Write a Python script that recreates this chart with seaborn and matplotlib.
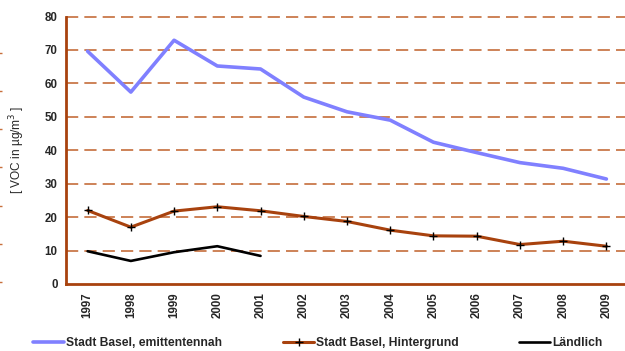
import matplotlib
matplotlib.use("Agg")
import matplotlib.pyplot as plt
import seaborn as sns
import pandas as pd

years = ["1997", "1998", "1999", "2000", "2001", "2002", "2003",
         "2004", "2005", "2006", "2007", "2008", "2009"]
emittentennah = [69.6, 57.4, 72.9, 65.2, 64.3, 55.9, 51.5, 49.0, 42.4, 39.3, 36.3, 34.6, 31.4]
hintergrund = [22.0, 17.0, 21.8, 23.1, 21.9, 20.2, 18.7, 16.1, 14.4, 14.3, 11.8, 12.8, 11.3]
laendlich = [9.8, 6.9, 9.5, 11.3, 8.4]
series_names = ["Stadt Basel, emittentennah", "Stadt Basel, Hintergrund", "Ländlich"]
y_ticks = [0, 10, 20, 30, 40, 50, 60, 70, 80]

sns.set_theme(style="white")
plt.rcParams["font.family"] = ["Liberation Sans", "DejaVu Sans"]

rows = []
for y, v in zip(years, emittentennah):
    rows.append((y, v, series_names[0]))
for y, v in zip(years, hintergrund):
    rows.append((y, v, series_names[1]))
for y, v in zip(years[:len(laendlich)], laendlich):
    rows.append((y, v, series_names[2]))
df = pd.DataFrame(rows, columns=["Jahr", "VOC", "Messort"])
df["pos"] = df["Jahr"].map({y: i for i, y in enumerate(years)})

brown = "#A8420E"
grid_col = "#C0602A"

fig = plt.figure(figsize=(6.25, 3.51), dpi=100)
ax = fig.add_axes([66 / 625, 67 / 351, 562 / 625, 267.5 / 351])

palette = {series_names[0]: "#8080FF", series_names[1]: brown, series_names[2]: "#000000"}
widths = {series_names[0]: 2.6, series_names[1]: 2.2, series_names[2]: 1.9}
for name in series_names:
    sub = df[df["Messort"] == name]
    sns.lineplot(data=sub, x="pos", y="VOC", ax=ax, color=palette[name],
                 lw=widths[name], label=name, sort=False,
                 marker="+" if name == series_names[1] else None,
                 markersize=6, markeredgecolor="black", markeredgewidth=1.0)

ax.set_xlim(-0.5, len(years) - 0.5)
ax.set_ylim(0, 80)
ax.set_yticks(y_ticks)
ax.set_yticklabels([str(t) for t in y_ticks], fontsize=8.3, fontweight="bold")
ax.set_xticks(range(len(years)))
ax.set_xticklabels(years, rotation=90, fontsize=8.3, fontweight="bold")
ax.set_xticks([i - 0.5 for i in range(len(years) + 1)], minor=True)
ax.tick_params(axis="x", which="major", length=0, pad=6)
ax.tick_params(axis="x", which="minor", length=5, width=1.2, color=brown, direction="out")
ax.tick_params(axis="y", length=8, width=1.2, color=brown, direction="inout", pad=2)
ax.set_xlabel("")
ax.set_ylabel("[ VOC in µg/m$^3$ ]", fontsize=8.6)
ax.yaxis.set_label_coords(-39 / 562, 0.5)

for t in y_ticks[1:]:
    ax.axhline(t, color=grid_col, lw=1.1, ls=(0, (8, 4)), zorder=0, clip_on=False)

for side in ["top", "right"]:
    ax.spines[side].set_visible(False)
for side in ["left", "bottom"]:
    ax.spines[side].set_color(brown)
    ax.spines[side].set_linewidth(2)

# small decorative tick column at the far left edge
sec = ax.secondary_yaxis(-64 / 562)
sec.spines["left"].set_visible(False)
sec.set_ticks([80 * i / 7 + 0.6 for i in range(8)])
sec.set_yticklabels([])
sec.tick_params(length=3, width=1, color="#C8703C", direction="out")

handles, labels = ax.get_legend_handles_labels()
ax.get_legend().remove()
# one legend entry per column, placed along the bottom edge
for h, lab, x0 in zip(handles, labels, [33, 283, 519]):
    fig.legend([h], [lab], loc="center left", bbox_to_anchor=(x0 / 625, 1 - 343 / 351),
               frameon=False, handlelength=2.6, handletextpad=0.15,
               borderpad=0, borderaxespad=0,
               prop={"weight": "bold", "size": 8.7})

fig.savefig("out.png", dpi=100)
